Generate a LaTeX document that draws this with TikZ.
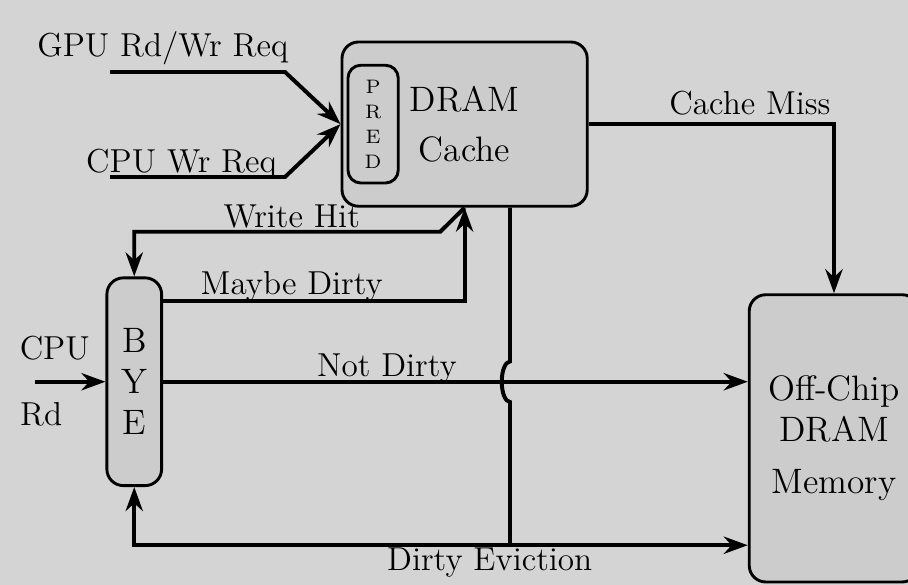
\documentclass[tikz,border=0pt]{standalone}
\usepackage{tikz}
\usepackage{amsmath}
\usetikzlibrary{arrows.meta}
\definecolor{bggray}{gray}{0.83}
\definecolor{boxgray}{gray}{0.8}

\begin{document}
\begin{tikzpicture}[
	blk/.style={rectangle,draw=black,line width=1.1pt,fill=boxgray,rounded corners=0.22cm,inner sep=0pt,align=center,font=\fontsize{13.4}{15.5}\selectfont},
	lbl/.style={anchor=base,inner sep=0pt,font=\fontsize{12.6}{14}\selectfont},
	wire/.style={line width=1.5pt},
	arr/.style={wire,-{Stealth[length=3.2mm,width=2.3mm]}}
	]
	\path[use as bounding box,fill=bggray] (0,0) rectangle (12.107,7.8);
	\node[blk,minimum width=3.27cm,minimum height=2.19cm] (cache) at (6.195,6.145) {DRAM\\[3.5pt]Cache};
	\node[blk,rounded corners=0.17cm,minimum width=0.67cm,minimum height=1.57cm,font=\fontsize{7.4}{9.5}\selectfont] (pred) at (4.975,6.145) {P\\R\\E\\D};
	\node[blk,minimum width=0.73cm,minimum height=2.77cm] (bye) at (1.79,2.71) {B\\Y\\E};
	\node[blk,minimum width=2.26cm,minimum height=3.83cm] (mem) at (11.12,1.955) {Off-Chip\\DRAM\\[4.5pt]Memory};
	\coordinate (gpuin) at (1.47,6.84);
	\coordinate (cpuwin) at (1.47,5.44);
	\coordinate (cpurd) at (0.47,2.71);
	\coordinate (ev) at (6.8,0.53);
	\node[lbl] (gpulbl) at (2.17,7.05) {GPU Rd/Wr Req};
	\node[lbl] (cpuwlbl) at (2.42,5.5) {CPU Wr Req};
	\node[lbl] (misslbl) at (10.0,6.27) {Cache Miss};
	\node[lbl] (hitlbl) at (3.89,4.77) {Write Hit};
	\node[lbl] (maybelbl) at (3.89,3.87) {Maybe Dirty};
	\node[lbl] (notlbl) at (5.16,2.78) {Not Dirty};
	\node[lbl] (evlbl) at (6.53,0.19) {Dirty Eviction};
	\node[lbl] (cpulbl) at (0.73,3.0) {CPU};
	\node[lbl] (rdlbl) at (0.55,2.13) {Rd};
	\draw[arr](gpuin)--(3.8,6.84)--(cache.west);
	\draw[arr](cpuwin)--(3.8,5.44)--(cache.west);
	\draw[arr](cache.east)-|(mem.north);
	\draw[arr](cache.south)--(5.87,4.71)-|(bye.north);
	\draw[arr]([yshift=1.08cm]bye.east)-|(cache.south);
	\draw[arr](bye.east)--(bye.east-|mem.west);
	\draw[wire](cache.south-|ev)--(6.8,2.98) arc[start angle=90,end angle=270,x radius=0.11,y radius=0.27]--(ev);
	\draw[arr](ev)-|(bye.south);
	\draw[arr](ev)--(ev-|mem.west);
	\draw[arr](cpurd)--(bye.west);
\end{tikzpicture}
\end{document}
